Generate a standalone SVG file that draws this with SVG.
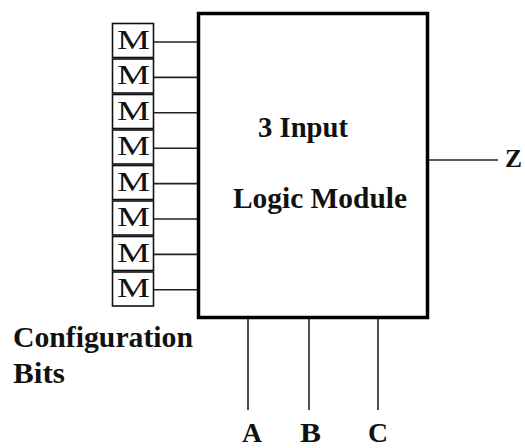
<svg xmlns="http://www.w3.org/2000/svg" width="525" height="448" viewBox="0 0 525 448">
<style>
.bg{fill:#fff}
.mbox{fill:#fff;stroke:#111;stroke-width:1.6}
.mtxt{font-family:"Liberation Serif","Times New Roman",serif;font-size:27px;fill:#111}
.main{fill:#fff;stroke:#000;stroke-width:3.5}
.wire{stroke:#222;stroke-width:1.6;fill:none}
.lbl{font-family:"Liberation Serif","Times New Roman",serif;font-weight:bold;fill:#111}
</style>
<rect class="bg" x="0" y="0" width="525" height="448"/>
<g id="connectors">
<line class="wire" x1="154" y1="42" x2="198" y2="42"/>
<line class="wire" x1="154" y1="77.4" x2="198" y2="77.4"/>
<line class="wire" x1="154" y1="112.8" x2="198" y2="112.8"/>
<line class="wire" x1="154" y1="148.2" x2="198" y2="148.2"/>
<line class="wire" x1="154" y1="183.6" x2="198" y2="183.6"/>
<line class="wire" x1="154" y1="219" x2="198" y2="219"/>
<line class="wire" x1="154" y1="254.4" x2="198" y2="254.4"/>
<line class="wire" x1="154" y1="289.8" x2="198" y2="289.8"/>
<line class="wire" x1="429" y1="160" x2="498" y2="160"/>
<line class="wire" x1="248" y1="319" x2="248" y2="410"/>
<line class="wire" x1="309" y1="319" x2="309" y2="410"/>
<line class="wire" x1="378" y1="319" x2="378" y2="410"/>
</g>
<g id="logic-module">
<rect class="main" x="198.5" y="13.5" width="229" height="304"/>
<text class="lbl" x="258" y="137" font-size="29" textLength="90" lengthAdjust="spacingAndGlyphs">3 Input</text>
<text class="lbl" x="233" y="208" font-size="29" textLength="174" lengthAdjust="spacingAndGlyphs">Logic Module</text>
</g>
<g id="m1"><rect class="mbox" x="112.5" y="23.5" width="41" height="34"/><text class="mtxt" x="117" y="48.5" textLength="33" lengthAdjust="spacingAndGlyphs">M</text></g>
<g id="m2"><rect class="mbox" x="112.5" y="59" width="41" height="34"/><text class="mtxt" x="117" y="84" textLength="33" lengthAdjust="spacingAndGlyphs">M</text></g>
<g id="m3"><rect class="mbox" x="112.5" y="94.5" width="41" height="34"/><text class="mtxt" x="117" y="119.5" textLength="33" lengthAdjust="spacingAndGlyphs">M</text></g>
<g id="m4"><rect class="mbox" x="112.5" y="130" width="41" height="34"/><text class="mtxt" x="117" y="155" textLength="33" lengthAdjust="spacingAndGlyphs">M</text></g>
<g id="m5"><rect class="mbox" x="112.5" y="165.5" width="41" height="34"/><text class="mtxt" x="117" y="190.5" textLength="33" lengthAdjust="spacingAndGlyphs">M</text></g>
<g id="m6"><rect class="mbox" x="112.5" y="201" width="41" height="34"/><text class="mtxt" x="117" y="226" textLength="33" lengthAdjust="spacingAndGlyphs">M</text></g>
<g id="m7"><rect class="mbox" x="112.5" y="236.5" width="41" height="34"/><text class="mtxt" x="117" y="261.5" textLength="33" lengthAdjust="spacingAndGlyphs">M</text></g>
<g id="m8"><rect class="mbox" x="112.5" y="272" width="41" height="34"/><text class="mtxt" x="117" y="297" textLength="33" lengthAdjust="spacingAndGlyphs">M</text></g>
<g id="config-label">
<text class="lbl" x="13" y="347" font-size="29" textLength="180" lengthAdjust="spacingAndGlyphs">Configuration</text>
<text class="lbl" x="13" y="383" font-size="29" textLength="52" lengthAdjust="spacingAndGlyphs">Bits</text>
</g>
<g id="port-z"><text class="lbl" x="505" y="167" font-size="26" textLength="17" lengthAdjust="spacingAndGlyphs">Z</text></g>
<g id="port-a"><text class="lbl" x="242" y="442" font-size="28" textLength="20" lengthAdjust="spacingAndGlyphs">A</text></g>
<g id="port-b"><text class="lbl" x="300" y="442" font-size="28" textLength="21" lengthAdjust="spacingAndGlyphs">B</text></g>
<g id="port-c"><text class="lbl" x="368" y="442" font-size="28" textLength="20" lengthAdjust="spacingAndGlyphs">C</text></g>
</svg>
